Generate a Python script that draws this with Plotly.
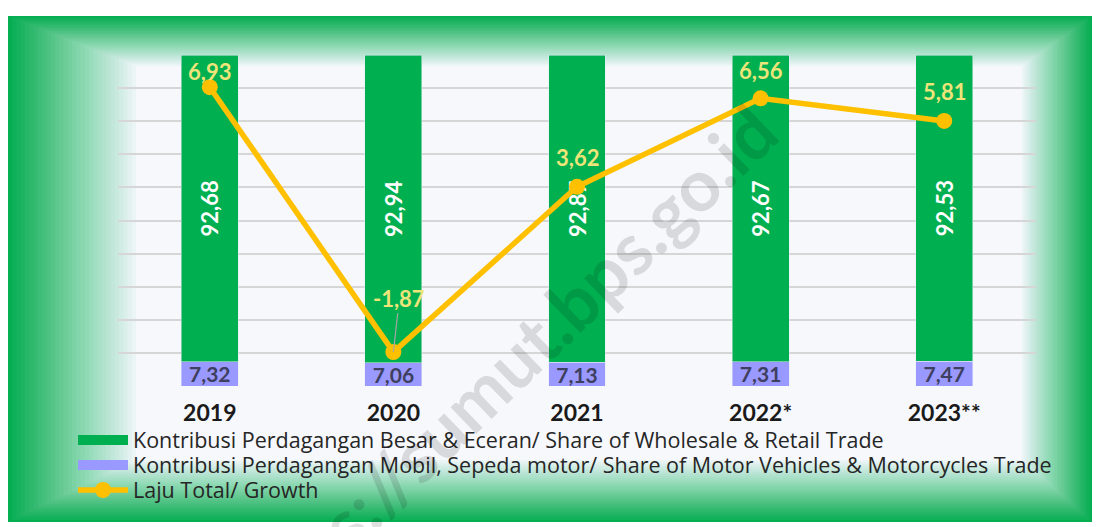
import plotly.graph_objects as go

years = ["2019", "2020", "2021", "2022*", "2023**"]
share_wholesale = [92.68, 92.94, 92.87, 92.67, 92.53]
share_motor = [7.32, 7.06, 7.13, 7.31, 7.47]
growth = [6.93, -1.87, 3.62, 6.56, 5.81]

name_wh = "Kontribusi Perdagangan Besar & Eceran/ Share of Wholesale & Retail Trade"
name_mv = "Kontribusi Perdagangan Mobil, Sepeda motor/ Share of Motor Vehicles & Motorcycles Trade"
name_gr = "Laju Total/ Growth"

GREEN = "#00B050"
PURPLE = "#9999FF"
GOLD = "#FFC000"
LABEL = "#EDE47A"
FONT = "Lato"
Y2_RANGE = [-3, 8]

def fmt(v):
    return f"{v:.2f}".replace(".", ",")

fig = go.Figure()

fig.add_trace(go.Bar(
    x=years, y=share_motor, marker_color=PURPLE, width=0.31, showlegend=False,
    text=[fmt(v) for v in share_motor], textposition="inside", insidetextanchor="middle",
    textangle=0, textfont=dict(size=21, color="#3F3F5F", family=FONT, weight="bold"),
))
fig.add_trace(go.Bar(
    x=years, y=share_wholesale, marker_color=GREEN, width=0.31, showlegend=False,
    text=[fmt(v) for v in share_wholesale], textposition="inside", insidetextanchor="middle",
    textangle=-90, textfont=dict(size=22, color="white", family=FONT, weight="bold"),
))

# legend proxies
fig.add_trace(go.Scatter(x=[years[0]], y=[None], mode="lines", name=name_wh, legend="legend",
                         line=dict(color=GREEN, width=11)))
fig.add_trace(go.Scatter(x=[years[0]], y=[None], mode="lines", name=name_mv, legend="legend2",
                         line=dict(color=PURPLE, width=11)))

fig.add_trace(go.Scatter(
    x=years, y=growth, yaxis="y2", mode="lines+markers", name=name_gr, legend="legend3",
    line=dict(color=GOLD, width=5.5), marker=dict(size=16, color=GOLD),
))

# page offset (browser body margin) and plot geometry in screen pixels
OFF = 8
FIG_W, FIG_H = 1100 - OFF, 527 - OFF
L, R, T, B = 118 - OFF, 1036 - OFF, 55 - OFF, 386 - OFF
W, H = R - L, B - T
px_per_unit = H / (Y2_RANGE[1] - Y2_RANGE[0])

def px(x):  # screen x -> paper
    return (x - OFF - L) / W
def py(y):  # screen y -> paper
    return (B - (y - OFF)) / H

# growth labels (x given as category index)
for i, g in enumerate(growth):
    if g < 0:
        fig.add_annotation(x=i, y=g, xref="x", yref="y2", text=fmt(g), showarrow=True,
                           ax=6, ay=-54, arrowhead=0, arrowwidth=1.2, arrowcolor="#A6A6A6",
                           font=dict(size=22, color=LABEL, family=FONT, weight="bold"))
    else:
        shift = min(29, (Y2_RANGE[1] - g) * px_per_unit - 16)
        fig.add_annotation(x=i, y=g, xref="x", yref="y2", text=fmt(g), showarrow=False,
                           yshift=shift, font=dict(size=22, color=LABEL, family=FONT, weight="bold"))

# background glow frame
shapes = [dict(type="rect", xref="paper", yref="paper", x0=px(8), x1=px(1092), y0=py(522), y1=py(16),
               fillcolor="#06AE52", line_width=0, layer="below")]
N = 30
insets = (128, 50, 70, 62)  # left, top, right, bottom
prev_g = 1.0
for i in range(1, N + 1):
    t = i / N
    g = 1.0 - t
    op = 1.0 - g / prev_g if prev_g > 0 else 1.0
    prev_g = g
    shapes.append(dict(type="rect", xref="paper", yref="paper",
                       x0=px(8 + insets[0] * t), x1=px(1092 - insets[2] * t),
                       y0=py(522 - insets[3] * t), y1=py(16 + insets[1] * t),
                       fillcolor="#F6F8FC", opacity=min(op, 1.0), line_width=0, layer="below"))

fig.add_annotation(text="https://sumut.bps.go.id", xref="paper", yref="paper", x=px(500), y=py(372),
                   xanchor="center", yanchor="middle", showarrow=False, textangle=-44,
                   font=dict(size=72, color="rgba(0,0,0,0.12)", family=FONT, weight="bold"))

legend_style = dict(xanchor="left", yanchor="middle", orientation="v",
                    font=dict(size=21.5, color="#262626", family="Open Sans"), itemwidth=50,
                    bgcolor="rgba(0,0,0,0)")

fig.update_layout(
    width=FIG_W, height=FIG_H,
    margin=dict(l=L, r=FIG_W - R, t=T, b=FIG_H - B, autoexpand=False),
    paper_bgcolor="white", plot_bgcolor="rgba(0,0,0,0)",
    barmode="stack", shapes=shapes,
    font=dict(family=FONT, color="#262626"),
    uniformtext=dict(minsize=21, mode="show"),
    xaxis=dict(type="category", range=[-0.5, len(years) - 0.5],
               tickfont=dict(size=23, color="#1A1A1A", family=FONT, weight="bold"),
               showgrid=False, ticks="", ticklabelstandoff=11),
    yaxis=dict(range=[0, 100], dtick=10, showticklabels=False, gridcolor="#D6D6D6", gridwidth=2,
               zeroline=False),
    yaxis2=dict(range=Y2_RANGE, overlaying="y", side="right", showgrid=False,
                showticklabels=False, zeroline=False),
    legend=dict(x=px(73), y=py(440), **legend_style),
    legend2=dict(x=px(73), y=py(465), **legend_style),
    legend3=dict(x=px(73), y=py(490), **legend_style),
    showlegend=True,
)

fig.write_html("out.html")
